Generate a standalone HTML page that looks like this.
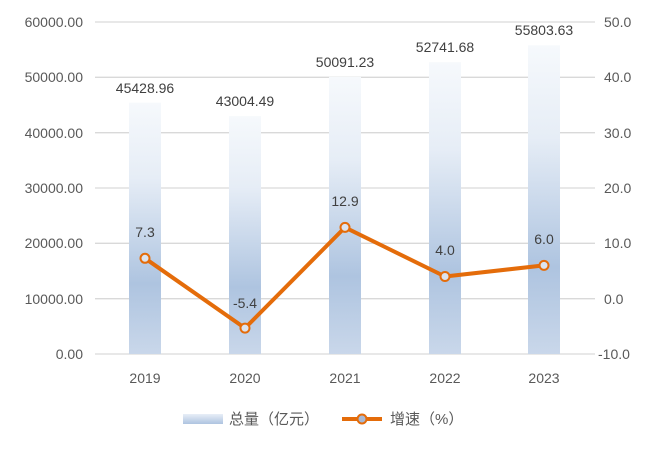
<!DOCTYPE html>
<html><head><meta charset="utf-8"><style>body{margin:0;background:#fff}</style></head><body>
<svg width="658" height="448" xmlns="http://www.w3.org/2000/svg" font-family="Liberation Sans, Noto Sans CJK SC, sans-serif">
<defs>
<linearGradient id="g" x1="0" y1="0" x2="0" y2="1">
<stop offset="0" stop-color="#f6f9fc"/><stop offset="0.3" stop-color="#e6edf6"/><stop offset="0.72" stop-color="#aec4e0"/><stop offset="1" stop-color="#c9d7ea"/>
</linearGradient>
<linearGradient id="lg" x1="0" y1="0" x2="0" y2="1"><stop offset="0" stop-color="#e8eef7"/><stop offset="1" stop-color="#aec4e0"/></linearGradient>
</defs>
<g stroke="#d9d9d9" stroke-width="1.3">
<line x1="95" x2="595" y1="22" y2="22"/><line x1="95" x2="595" y1="77.3" y2="77.3"/><line x1="95" x2="595" y1="132.7" y2="132.7"/><line x1="95" x2="595" y1="188" y2="188"/><line x1="95" x2="595" y1="243.3" y2="243.3"/><line x1="95" x2="595" y1="298.7" y2="298.7"/><line x1="95" x2="595" y1="354" y2="354"/>
</g>
<g fill="url(#g)">
<rect x="129" y="102.7" width="32" height="251.3"/>
<rect x="229" y="116.1" width="32" height="237.9"/>
<rect x="329" y="76.9" width="32" height="277.1"/>
<rect x="429" y="62.2" width="32" height="291.8"/>
<rect x="528" y="45.3" width="32" height="308.7"/>
</g>
<g font-size="14" fill="#595959" text-anchor="end">
<text x="83" y="27">60000.00</text><text x="83" y="82">50000.00</text><text x="83" y="138">40000.00</text><text x="83" y="193">30000.00</text><text x="83" y="248">20000.00</text><text x="83" y="304">10000.00</text><text x="83" y="359">0.00</text>
</g>
<g font-size="14" fill="#595959" text-anchor="start">
<text x="604" y="27">50.0</text><text x="604" y="82">40.0</text><text x="604" y="138">30.0</text><text x="604" y="193">20.0</text><text x="604" y="248">10.0</text><text x="604" y="304">0.0</text><text x="598" y="359">-10.0</text>
</g>
<g font-size="14" fill="#595959" text-anchor="middle">
<text x="145" y="383">2019</text><text x="245" y="383">2020</text><text x="345" y="383">2021</text><text x="445" y="383">2022</text><text x="544" y="383">2023</text>
</g>
<g font-size="14" fill="#404040" text-anchor="middle">
<text x="145" y="93">45428.96</text><text x="245" y="106">43004.49</text><text x="345" y="67">50091.23</text><text x="445" y="52">52741.68</text><text x="544" y="35">55803.63</text>
<text x="145" y="237">7.3</text><text x="245" y="308">-5.4</text><text x="345" y="206">12.9</text><text x="445" y="255">4.0</text><text x="544" y="244">6.0</text>
</g>
<polyline points="145,258.3 245,328.1 345,227.4 445,276.5 544,265.4" fill="none" stroke="#e46c0a" stroke-width="4" stroke-linejoin="round"/>
<g fill="#dde4ef" stroke="#e46c0a" stroke-width="2">
<circle cx="145" cy="258.3" r="4.5"/><circle cx="245" cy="328.1" r="4.5"/><circle cx="345" cy="227.4" r="4.5"/><circle cx="445" cy="276.5" r="4.5"/><circle cx="544" cy="265.4" r="4.5"/>
</g>
<rect x="183" y="414" width="40" height="10" fill="url(#lg)"/>
<text x="229" y="424" font-size="15" fill="#595959">总量（亿元）</text>
<line x1="342" x2="382" y1="419" y2="419" stroke="#e46c0a" stroke-width="4"/>
<circle cx="362" cy="419" r="4.5" fill="#a9b8d3" stroke="#e46c0a" stroke-width="2"/>
<text x="390" y="424" font-size="15" fill="#595959">增速（%）</text>
</svg>
</body></html>
